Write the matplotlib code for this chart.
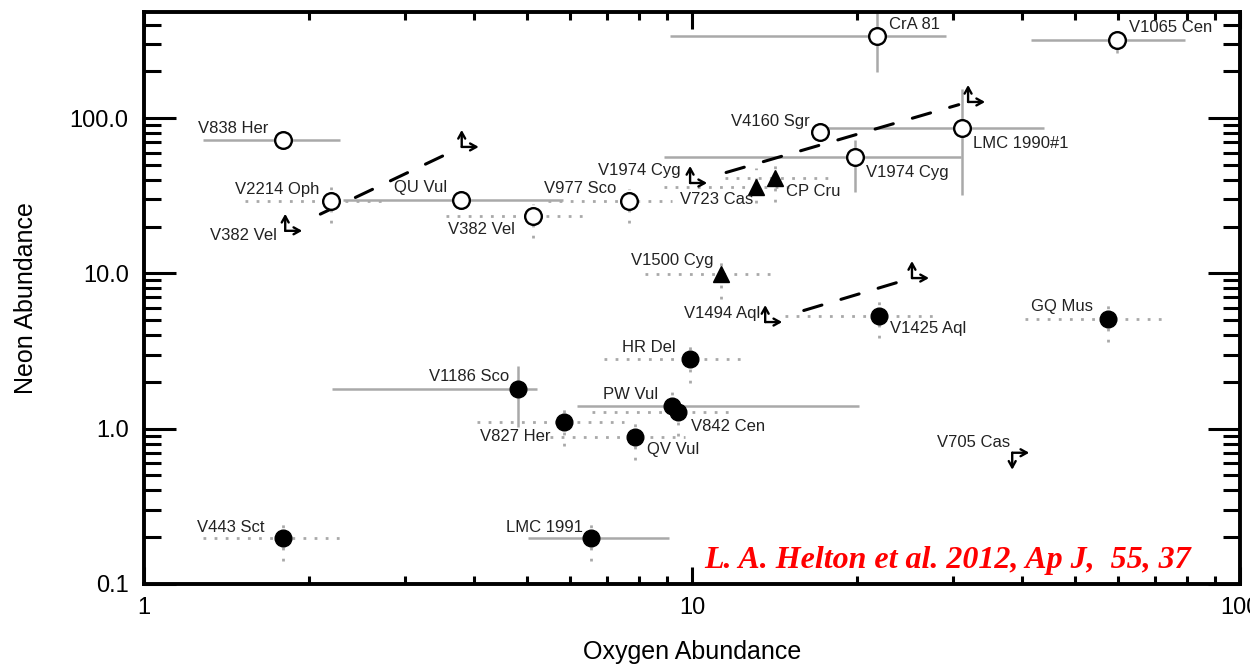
import numpy as np
import matplotlib
matplotlib.use("Agg")
import matplotlib.pyplot as plt
from matplotlib.ticker import FixedLocator, NullFormatter, LogLocator, FixedFormatter

plt.rcParams['font.family'] = ['Liberation Sans', 'DejaVu Sans']
nan = np.nan

# ---------------- data ----------------
# open circles
open_names = ['V838 Her', 'V2214 Oph', 'QU Vul', 'V382 Vel', 'V977 Sco', 'CrA 81',
              'V1065 Cen', 'V4160 Sgr', 'LMC 1990#1', 'V1974 Cyg']
open_O = [1.79, 2.19, 3.79, 5.12, 7.66, 21.8, 59.7, 17.1, 31.1, 19.8]
open_Ne = [72, 29.3, 29.7, 23.4, 29.3, 340, 316, 81, 86, 56]
open_Olo = [1.28, 1.53, 2.31, 3.56, 5.45, 9.1, 41.5, nan, 16.8, 8.9]
open_Ohi = [2.28, 2.8, 5.82, 6.52, 9.2, 29.1, 79.2, nan, 43.8, 31.0]
open_Nelo = [nan, 21, nan, 17, 21, 197, 262, nan, 32, 33.4]
open_Nehi = [nan, 36, nan, 28, 35, 700, 358, nan, 153, 72]
open_xstyle = ['solid', 'dotted', 'solid', 'dotted', 'dotted', 'solid', 'solid', 'none', 'solid', 'solid']
open_ystyle = ['none', 'dotted', 'none', 'dotted', 'dotted', 'solid', 'solid', 'none', 'solid', 'solid']

# filled triangles
tri_names = ['V723 Cas', 'CP Cru', 'V1500 Cyg']
tri_O = [13.1, 14.15, 11.3]
tri_Ne = [36, 41.1, 9.94]
tri_Olo = [8.9, 11.5, 8.2]
tri_Ohi = [15.5, 18.0, 14.3]
tri_Nelo = [28.5, 29, 6.8]
tri_Nehi = [48, 50, 12.6]

# filled circles
fill_names = ['V443 Sct', 'LMC 1991', 'V1186 Sco', 'V827 Her', 'QV Vul', 'PW Vul',
              'V842 Cen', 'HR Del', 'V1425 Aql', 'GQ Mus']
fill_O = [1.79, 6.55, 4.81, 5.84, 7.86, 9.19, 9.43, 9.92, 21.9, 57.4]
fill_Ne = [0.197, 0.197, 1.79, 1.10, 0.89, 1.39, 1.29, 2.79, 5.34, 5.11]
fill_Olo = [1.28, 5.02, 2.20, 4.06, 5.5, 6.17, 6.58, 6.92, 14.8, 40.5]
fill_Ohi = [2.28, 9.07, 5.21, 7.5, 9.7, 20.2, 11.9, 12.6, 28.0, 73.9]
fill_Nelo = [0.14, 0.14, 1.03, 0.77, 0.63, nan, 0.9, 1.98, 3.86, 3.6]
fill_Nehi = [0.25, 0.25, 2.55, 1.39, 1.18, 1.79, nan, 3.6, 6.9, 6.6]
fill_xstyle = ['dotted', 'solid', 'solid', 'dotted', 'dotted', 'solid', 'dotted', 'dotted', 'dotted', 'dotted']
fill_ystyle = ['dotted', 'dotted', 'solid', 'dotted', 'dotted', 'dotted', 'dotted', 'dotted', 'dotted', 'dotted']

# limits (lower limits in O; Ne lower (+1) or upper (-1) limit)
lim_names = ['V382 Vel', '', 'V1974 Cyg', '', 'V1494 Aql', '', 'V705 Cas']
lim_O = [1.81, 3.80, 9.92, 31.9, 13.6, 25.2, 38.4]
lim_Ne = [18.8, 65.2, 38.2, 127, 4.86, 9.33, 0.70]
lim_Ne_dir = [1, 1, 1, 1, 1, 1, -1]
lim_pairs = [(0, 1), (2, 3), (4, 5)]

x_ticks = [1, 10, 100]
x_ticklabels = ['1', '10', '100']
y_ticks = [0.1, 1, 10, 100]
y_ticklabels = ['0.1', '1.0', '10.0', '100.0']

citation = 'L. A. Helton et al. 2012, Ap J,  55, 37'

# ---------------- label placement (pixel offsets, alignment) ----------------
open_lab = [(-14, 12, 'right'), (-11, 11, 'right'), (-14, 12, 'right'), (-18, -13, 'right'),
            (-12, 12, 'right'), (12, 11, 'left'), (12, 13, 'left'), (-10, 11, 'right'),
            (11, -15, 'left'), (11, -15, 'left')]
tri_lab = [(-3, -13, 'right'), (11, -13, 'left'), (-8, 13, 'right')]
fill_lab = [(-18, 11, 'right'), (-8, 11, 'right'), (-9, 13, 'right'), (-13, -14, 'right'),
            (12, -13, 'left'), (-14, 12, 'right'), (13, -15, 'left'), (-14, 12, 'right'),
            (11, -13, 'left'), (-15, 12, 'right')]
lim_lab = [(-8, -5, 'right'), None, (-9, 12, 'right'), None, (-5, 9, 'right'), None, (-2, 10, 'right')]

# ---------------- figure ----------------
fig = plt.figure(figsize=(12.5, 6.71), dpi=100)
ax = fig.add_axes([144 / 1250, 1 - 584 / 671, 1096 / 1250, 572 / 671])
ax.set_xscale('log')
ax.set_yscale('log')
ax.set_xlim(1, 100)
ax.set_ylim(0.1, 482)

GRAY = '#a9a9a9'
DOT = (0, (1, 3))


def errbars(O, Ne, Olo, Ohi, Nelo, Nehi, xs, ys):
    for i in range(len(O)):
        if xs[i] != 'none' and not np.isnan(Olo[i]):
            ls = '-' if xs[i] == 'solid' else DOT
            ax.plot([Olo[i], Ohi[i]], [Ne[i], Ne[i]], color=GRAY, lw=1.8 if xs[i] == 'solid' else 2.0,
                    ls=ls, zorder=1, solid_capstyle='butt')
        if ys[i] != 'none':
            lo = Ne[i] if np.isnan(Nelo[i]) else Nelo[i]
            hi = Ne[i] if np.isnan(Nehi[i]) else Nehi[i]
            ls = '-' if ys[i] == 'solid' else DOT
            ax.plot([O[i], O[i]], [lo, hi], color=GRAY, lw=1.8 if ys[i] == 'solid' else 2.0,
                    ls=ls, zorder=1, solid_capstyle='butt')


errbars(open_O, open_Ne, open_Olo, open_Ohi, open_Nelo, open_Nehi, open_xstyle, open_ystyle)
errbars(tri_O, tri_Ne, tri_Olo, tri_Ohi, tri_Nelo, tri_Nehi, ['dotted'] * 3, ['dotted'] * 3)
errbars(fill_O, fill_Ne, fill_Olo, fill_Ohi, fill_Nelo, fill_Nehi, fill_xstyle, fill_ystyle)

# dashed connectors between limits
shr = [(28, 13), (27, 7), (29, 11)]
for (a, b), (sa, sb) in zip(lim_pairs, shr):
    ax.annotate('', xy=(lim_O[b], lim_Ne[b]), xytext=(lim_O[a], lim_Ne[a]),
                xycoords='data', textcoords='data',
                arrowprops=dict(arrowstyle='-', lw=2.2, color='black', linestyle=(0, (6.2, 6.5)),
                                shrinkA=sa, shrinkB=sb), zorder=2)

# markers
ax.plot(open_O, open_Ne, 'o', ms=12, mfc='white', mec='black', mew=1.7, ls='none', zorder=4)
ax.plot(tri_O, tri_Ne, '^', ms=11, color='black', ls='none', zorder=4)
ax.plot(fill_O, fill_Ne, 'o', ms=12, color='black', ls='none', zorder=4)

# limit arrows
AL = 17
for o, ne, d in zip(lim_O, lim_Ne, lim_Ne_dir):
    for dx, dy in [(AL, 0), (0, AL * d)]:
        ax.annotate('', xy=(o, ne), xycoords='data', xytext=(dx, dy), textcoords='offset pixels',
                    arrowprops=dict(arrowstyle='<-,head_length=0.45,head_width=0.25', lw=1.7,
                                    color='black', shrinkA=0, shrinkB=0), zorder=5)

# labels
def labels(names, O, Ne, offs):
    for n, o, ne, off in zip(names, O, Ne, offs):
        if off is None or not n:
            continue
        dx, dy, ha = off
        ax.annotate(n, xy=(o, ne), xytext=(dx, dy), textcoords='offset pixels',
                    ha=ha, va='center', fontsize=12, color='#222222', zorder=6)


labels(open_names, open_O, open_Ne, open_lab)
labels(tri_names, tri_O, tri_Ne, tri_lab)
labels(fill_names, fill_O, fill_Ne, fill_lab)
labels(lim_names, lim_O, lim_Ne, lim_lab)

# axes styling
for s in ax.spines.values():
    s.set_linewidth(2.8)
ax.xaxis.set_major_locator(FixedLocator(x_ticks))
ax.xaxis.set_major_formatter(FixedFormatter(x_ticklabels))
ax.yaxis.set_major_locator(FixedLocator(y_ticks))
ax.yaxis.set_major_formatter(FixedFormatter(y_ticklabels))
ax.xaxis.set_minor_locator(LogLocator(base=10, subs=np.arange(2, 10)))
ax.yaxis.set_minor_locator(LogLocator(base=10, subs=np.arange(2, 10)))
ax.xaxis.set_minor_formatter(NullFormatter())
ax.yaxis.set_minor_formatter(NullFormatter())
ax.tick_params(axis='x', which='major', direction='in', length=12, width=2.2, top=True, bottom=True,
               labelsize=17, pad=9)
ax.tick_params(axis='x', which='minor', direction='in', length=6, width=2.2, top=True, bottom=True)
ax.tick_params(axis='y', which='major', direction='in', length=23, width=2.2, left=True, right=True,
               labelsize=17, pad=11)
ax.tick_params(axis='y', which='minor', direction='in', length=12, width=2.2, left=True, right=True)

ax.set_xlabel('Oxygen Abundance', fontsize=18)
ax.set_ylabel('Neon Abundance', fontsize=18)
ax.xaxis.set_label_coords(0.5, -0.098)
ax.yaxis.set_label_coords(-0.097, 0.5)

ax.text(0.511, 0.028, citation, transform=ax.transAxes, ha='left', va='baseline',
        fontsize=23, color='red', fontweight='bold', fontstyle='italic',
        family=['Liberation Serif', 'DejaVu Serif'], zorder=7)

fig.savefig('out.png', dpi=100)
